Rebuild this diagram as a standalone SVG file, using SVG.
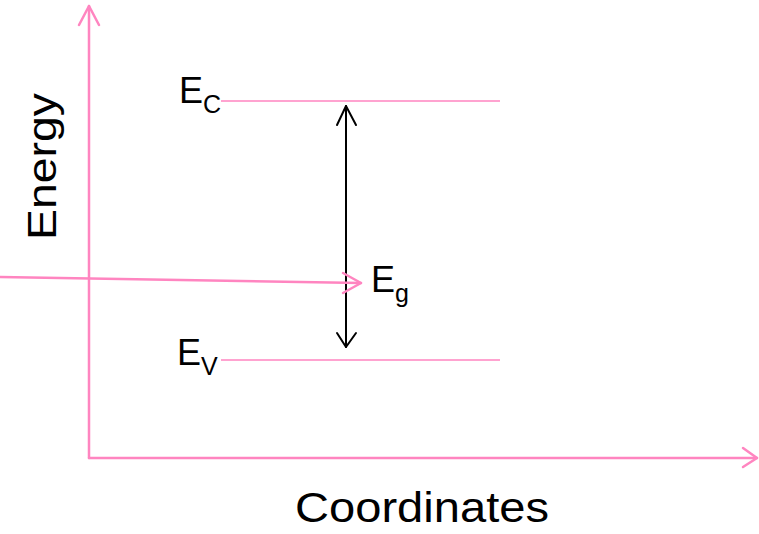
<svg xmlns="http://www.w3.org/2000/svg" width="759" height="534" viewBox="0 0 759 534">
<style>
.ax{stroke:#ff85c0;stroke-width:2.5;fill:none;stroke-linecap:round;stroke-linejoin:round}
.lvl{stroke:#ff85c0;stroke-width:1.5;fill:none}
.blk{stroke:#000;stroke-width:2;fill:none;stroke-linecap:round;stroke-linejoin:round}
.t{font-family:"Liberation Sans",Arial,sans-serif;fill:#000}
</style>
<rect width="759" height="534" fill="#fff"/>
<g id="connectors">
  <polyline class="ax" points="89,458 89,6"/>
  <polyline class="ax" points="79,25 89,6 99,25"/>
  <polyline class="ax" points="89,458 757,458"/>
  <polyline class="ax" points="743,448 757,458 743,467"/>
  <line class="lvl" x1="221" y1="101" x2="500" y2="101"/>
  <line class="lvl" x1="221" y1="360" x2="500" y2="360"/>
  <line class="blk" x1="346" y1="106" x2="346" y2="347"/>
  <polyline class="blk" points="337,125 346,106 356,125"/>
  <polyline class="blk" points="337,333 346,347 356,333"/>
  <line class="ax" x1="0" y1="277" x2="361" y2="283"/>
  <polyline class="ax" points="343,273 361,283 343,293"/>
</g>
<g id="ec"><text class="t" x="179" y="103" font-size="36">E<tspan font-size="25" dy="10">C</tspan></text></g>
<g id="ev"><text class="t" x="177" y="365" font-size="36">E<tspan font-size="25" dy="10">V</tspan></text></g>
<g id="eg"><text class="t" x="371" y="292" font-size="36">E<tspan font-size="25" dy="10">g</tspan></text></g>
<g id="energy"><text class="t" font-size="41" transform="translate(56,240) rotate(-90)" textLength="147" lengthAdjust="spacingAndGlyphs">Energy</text></g>
<g id="coordinates"><text class="t" x="295" y="522" font-size="42" textLength="254" lengthAdjust="spacingAndGlyphs">Coordinates</text></g>
</svg>
